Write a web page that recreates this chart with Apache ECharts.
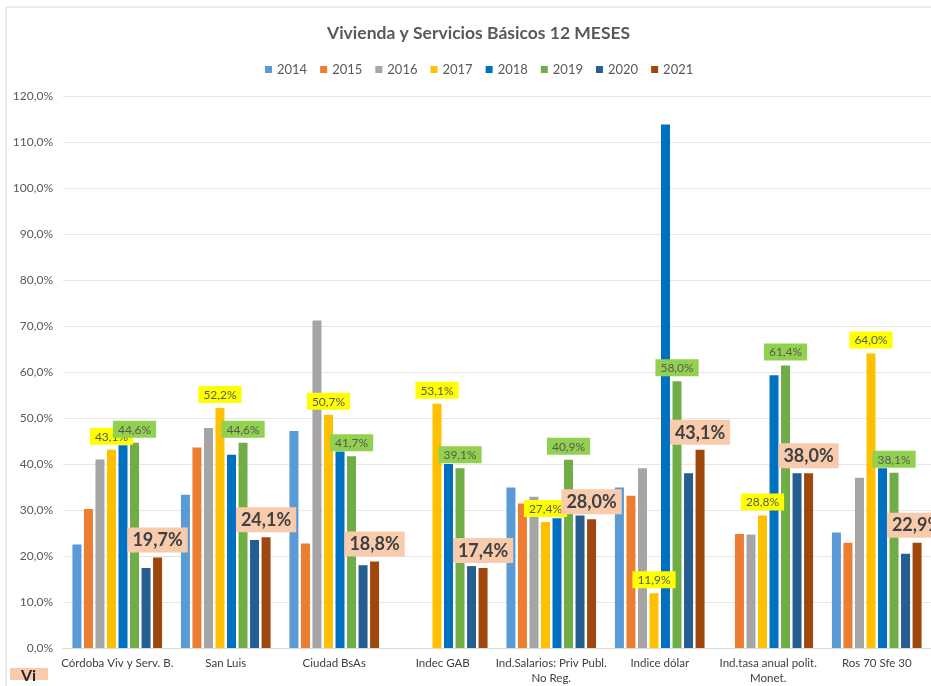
<!DOCTYPE html>
<html>
<head>
<meta charset="utf-8">
<script src="https://cdn.jsdelivr.net/npm/echarts@6/dist/echarts.min.js"></script>
<style>
  html, body { margin: 0; padding: 0; background: #ffffff; }
  #chart { width: 931px; height: 686px; }
</style>
</head>
<body>
<div id="chart"></div>
<script>
// Categories along the x axis
const categories = [
  'Córdoba Viv y Serv. B.',
  'San Luis',
  'Ciudad BsAs',
  'Indec GAB',
  'Ind.Salarios: Priv Publ.\nNo Reg.',
  'Indice dólar',
  'Ind.tasa anual polit.\nMonet.',
  'Ros 70 Sfe 30'
];

// Yearly variation (%) per category
const years = ['2014', '2015', '2016', '2017', '2018', '2019', '2020', '2021'];
const v2014 = [22.5, 33.3, 47.2, null, 34.9, 34.9, null, 25.1];
const v2015 = [30.2, 43.6, 22.7, null, 31.4, 33.1, 24.8, 22.9];
const v2016 = [41.0, 47.8, 71.2, null, 32.9, 39.1, 24.7, 37.0];
const v2017 = [43.1, 52.2, 50.7, 53.1, 27.4, 11.9, 28.8, 64.0];
const v2018 = [44.1, 42.0, 42.7, 40.0, 28.2, 113.8, 59.3, 39.1];
const v2019 = [44.6, 44.6, 41.7, 39.1, 40.9, 58.0, 61.4, 38.1];
const v2020 = [17.4, 23.5, 18.0, 17.8, 28.8, 38.0, 38.0, 20.5];
const v2021 = [19.7, 24.1, 18.8, 17.4, 28.0, 43.1, 38.0, 22.9];

// Y axis range and step
const yMin = 0;
const yMax = 120;
const yStep = 10;

const seriesValues = [v2014, v2015, v2016, v2017, v2018, v2019, v2020, v2021];
const colors = ['#5B9BD5', '#ED7D31', '#A5A5A5', '#FFC000', '#0070C0', '#70AD47', '#255E91', '#9E480E'];

const FONT = 'Lato, "Liberation Sans", sans-serif';
const pct = v => v.toFixed(1).replace('.', ',') + '%';

// Value labels shown for three of the years
const smallLabel = bg => ({
  show: true,
  position: 'top',
  distance: 5,
  formatter: p => pct(p.value),
  fontFamily: FONT,
  fontSize: 12,
  color: '#595959',
  backgroundColor: bg,
  padding: [3, 5, 2, 5]
});
const bigLabel = {
  show: true,
  position: 'top',
  distance: 5,
  formatter: p => pct(p.value),
  fontFamily: FONT,
  fontSize: 18,
  fontWeight: 'bold',
  color: '#404040',
  backgroundColor: '#F8CBAD',
  padding: [4, 5, 3, 5]
};
const labels = {
  '2017': smallLabel('#FFFF00'),
  '2019': smallLabel('#92D050'),
  '2021': bigLabel
};

const series = years.map((y, i) => ({
  name: y,
  type: 'bar',
  data: seriesValues[i],
  barWidth: 9,
  barGap: '28%',
  itemStyle: { color: colors[i] },
  label: labels[y] || { show: false },
  emphasis: { disabled: true }
}));

const chart = echarts.init(document.getElementById('chart'), null, { renderer: 'canvas' });
chart.setOption({
  animation: false,
  backgroundColor: '#ffffff',
  color: colors,
  title: {
    text: 'Vivienda y Servicios Básicos 12 MESES',
    left: 322,
    top: 19,
    textStyle: { fontFamily: FONT, fontSize: 17.5, fontWeight: 'bold', color: '#595959' }
  },
  legend: {
    top: 58,
    left: 260,
    itemWidth: 7,
    itemHeight: 7,
    itemGap: 13,
    icon: 'rect',
    textStyle: { fontFamily: FONT, fontSize: 13, color: '#595959' },
    data: years
  },
  grid: { left: 63, top: 96, width: 871, height: 552, containLabel: false },
  xAxis: {
    type: 'category',
    data: categories,
    axisLine: { lineStyle: { color: '#d9d9d9' } },
    axisTick: { show: false },
    axisLabel: {
      interval: 0,
      margin: 8,
      fontFamily: FONT,
      fontSize: 11.5,
      color: '#404040',
      lineHeight: 15
    }
  },
  yAxis: {
    type: 'value',
    min: yMin,
    max: yMax,
    interval: yStep,
    axisLine: { show: false },
    axisTick: { show: false },
    splitLine: { lineStyle: { color: '#e6e6e6' } },
    axisLabel: {
      margin: 10,
      fontFamily: FONT,
      fontSize: 12,
      color: '#595959',
      formatter: v => pct(v)
    }
  },
  graphic: [
    {
      type: 'rect',
      shape: { x: 6, y: 7, width: 1000, height: 1000 },
      style: { fill: 'none', stroke: '#d9d9d9', lineWidth: 1 },
      silent: true,
      z: -10
    },
    {
      type: 'rect',
      shape: { x: 10, y: 668, width: 38, height: 12 },
      style: { fill: '#F8CBAD' },
      silent: true
    },
    {
      type: 'text',
      x: 21,
      y: 668,
      style: { text: 'Vi', fontFamily: FONT, fontSize: 16, fontWeight: 'bold', fill: '#262626' },
      silent: true
    }
  ],
  series: series
});
</script>
</body>
</html>
